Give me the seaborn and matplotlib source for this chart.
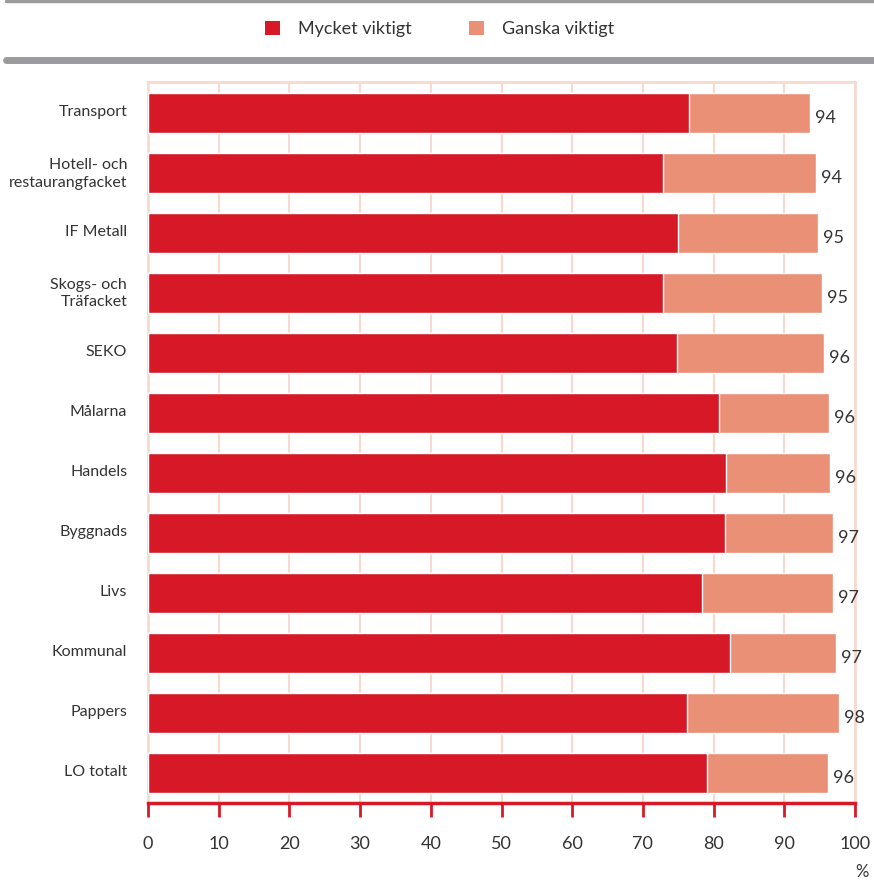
import numpy as np
import pandas as pd
import matplotlib.pyplot as plt
import matplotlib.transforms as mtransforms
import seaborn as sns
from matplotlib.patches import Patch
from matplotlib.lines import Line2D

# ── Data ─────────────────────────────────────────────────
categories = ["Transport", "Hotell- och\nrestaurangfacket", "IF Metall",
              "Skogs- och\nTräfacket", "SEKO", "Målarna", "Handels",
              "Byggnads", "Livs", "Kommunal", "Pappers", "LO totalt"]
mycket = [76.5, 72.8, 75.0, 72.8, 74.8, 80.8, 81.8, 81.6, 78.4, 82.3, 76.2, 79.1]
totalt = [93.6, 94.5, 94.8, 95.3, 95.6, 96.3, 96.5, 96.9, 96.9, 97.3, 97.7, 96.2]
labels = [94, 94, 95, 95, 96, 96, 96, 97, 97, 97, 98, 96]
series_names = ["Mycket viktigt", "Ganska viktigt"]

RED = "#D71927"
SALMON = "#E99077"
GRID = "#F7D9CF"
GRAY = "#9B9B9E"
TEXT = "#333333"

df = pd.DataFrame({"kategori": categories, "mycket": mycket, "totalt": totalt})

sns.set_theme(style="white")
plt.rcParams["font.family"] = ["Lato", "DejaVu Sans"]

fig = plt.figure(figsize=(8.74, 8.80), dpi=100)
ax = fig.add_axes([148 / 874, 1 - 803 / 880, 707 / 874, 721 / 880])

# total bar (ganska part shows behind), then mycket on top
sns.barplot(data=df, y="kategori", x="totalt", color=SALMON, width=0.67,
            orient="h", ax=ax, saturation=1, zorder=3)
sns.barplot(data=df, y="kategori", x="mycket", color=RED, width=0.67,
            orient="h", ax=ax, saturation=1, zorder=4)

# value labels
for i, (t, lab) in enumerate(zip(totalt, labels)):
    ax.text(t + 0.7, i + 0.08, str(lab), va="center", ha="left",
            fontsize=13, color=TEXT)

ax.set_xlim(0, 100)
ax.set_ylim(11.5, -0.52)
ax.set_xticks(np.arange(0, 101, 10))
ax.set_xlabel("")
ax.set_ylabel("")

ax.grid(axis="x", color=GRID, linewidth=1.5, zorder=0)
ax.set_axisbelow(True)
for s in ["top", "left", "right"]:
    ax.spines[s].set_color(GRID)
    ax.spines[s].set_linewidth(2)
ax.spines["bottom"].set_color(RED)
ax.spines["bottom"].set_linewidth(2.5)

ax.tick_params(axis="x", bottom=True, direction="out", length=10, width=2,
               color=RED, labelsize=13, labelcolor=TEXT, pad=14)
ax.tick_params(axis="y", left=False, length=0, labelsize=11.5,
               labelcolor=TEXT, pad=15)
shift = mtransforms.ScaledTranslation(0, 3 / 100, fig.dpi_scale_trans)
for t in ax.get_yticklabels():
    t.set_linespacing(1.35)
    t.set_transform(t.get_transform() + shift)

fig.text(862 / 874, 1 - 872 / 880, "%", ha="center", va="center",
         fontsize=12, color=TEXT)

# legend
handles = [Patch(facecolor=RED, edgecolor="none"),
           Patch(facecolor=SALMON, edgecolor="none")]
fig.legend(handles, series_names, loc="center", bbox_to_anchor=(0.503, 1 - 29 / 880),
           ncol=2, frameon=False, fontsize=13, handlelength=0.8,
           handleheight=0.8, handletextpad=1.0, columnspacing=3.2,
           labelcolor=TEXT)

# gray rules
fig.add_artist(Line2D([6 / 874, 1], [1 - 1.5 / 880] * 2, color=GRAY, linewidth=2.5))
fig.add_artist(Line2D([6 / 874, 1], [1 - 60 / 880] * 2, color=GRAY, linewidth=5))

fig.savefig("out.png", dpi=100)
